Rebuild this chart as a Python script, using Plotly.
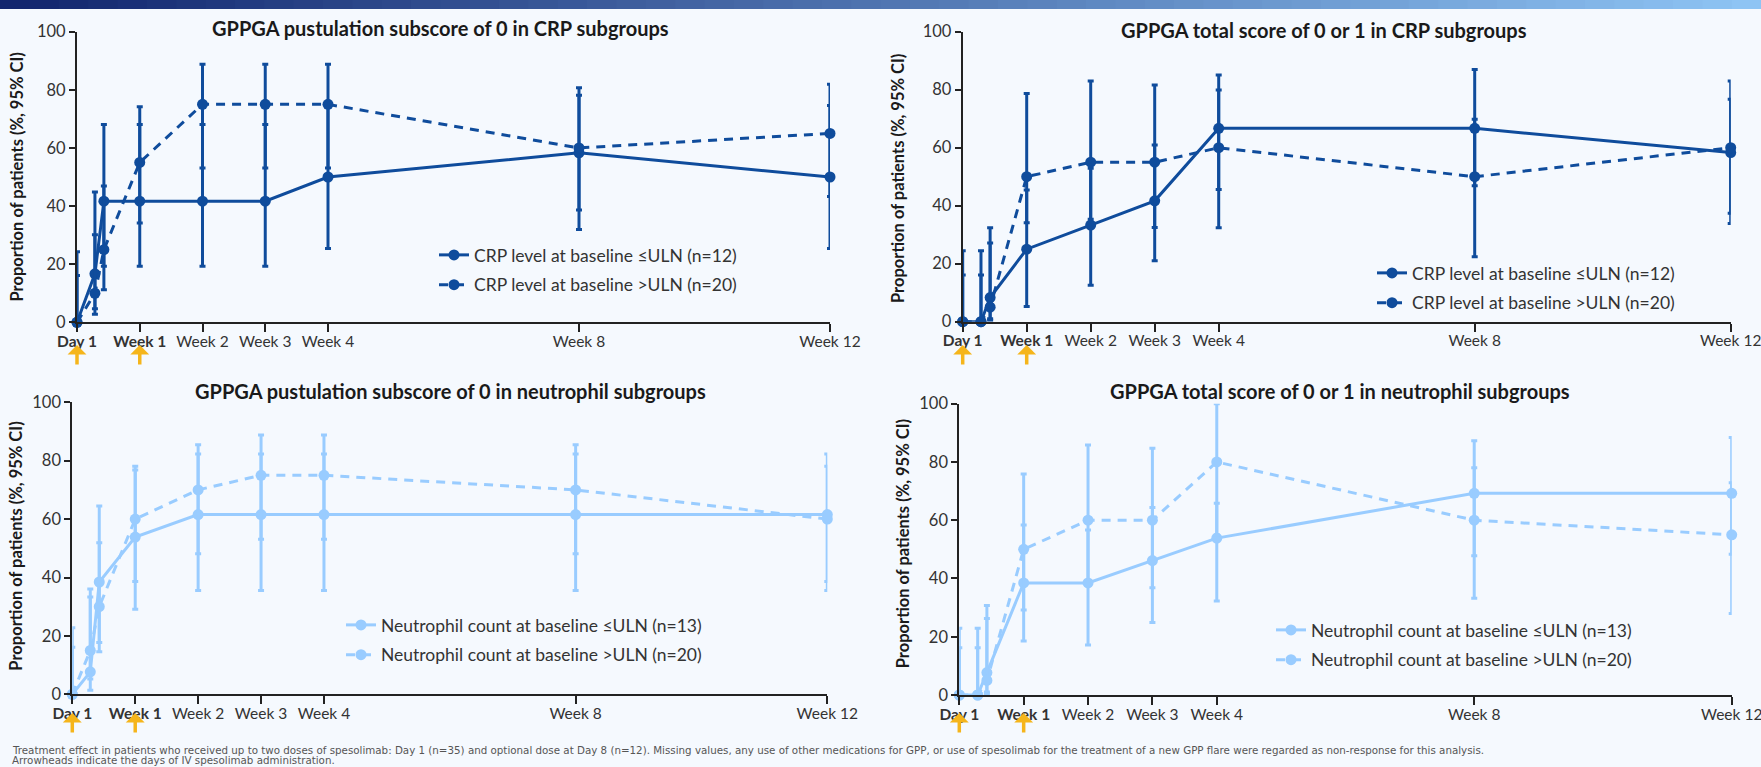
import plotly.graph_objects as go
import numpy as np

# ---------------- data ----------------
days = [1, 3, 4, 8, 15, 22, 29, 57, 85]
tick_days = [1, 8, 15, 22, 29, 57, 85]
tick_labels = ["<b>Day 1</b>", "<b>Week 1</b>", "Week 2", "Week 3", "Week 4", "Week 8", "Week 12"]
dose_days = [1, 8]

# GPPGA pustulation subscore of 0 – CRP subgroups
crp_pust_le = [0, 16.67, 41.67, 41.67, 41.67, 41.67, 50.0, 58.33, 50.0]
crp_pust_le_lo = [0, 4.70, 19.33, 19.33, 19.33, 19.33, 25.38, 31.95, 25.38]
crp_pust_le_hi = [24.25, 44.80, 68.05, 68.05, 68.05, 68.05, 74.62, 80.67, 74.62]
crp_pust_gt = [0, 10, 25, 55, 75, 75, 75, 60, 65]
crp_pust_gt_lo = [0, 2.79, 11.19, 34.21, 53.13, 53.13, 53.13, 38.66, 43.28]
crp_pust_gt_hi = [16.11, 30.10, 46.87, 74.18, 88.81, 88.81, 88.81, 78.12, 81.88]

# GPPGA total score of 0 or 1 – CRP subgroups
crp_tot_le = [0, 0, 8.33, 25, 33.33, 41.67, 66.67, 66.67, 58.33]
crp_tot_le_lo = [0, 0, 1.0, 5.2, 12.6, 21.0, 32.4, 46.9, 33.9]
crp_tot_le_hi = [24.5, 24.5, 32.4, 45.4, 52.9, 60.9, 85.1, 87.0, 83.0]
crp_tot_gt = [0, 0, 5, 50, 55, 55, 60, 50, 60]
crp_tot_gt_lo = [0, 0, 0.5, 34.1, 35.3, 32.5, 45.6, 22.4, 37.4]
crp_tot_gt_hi = [16.1, 16.1, 27.1, 78.7, 83.0, 81.6, 79.9, 69.8, 76.7]

# GPPGA pustulation subscore of 0 – neutrophil subgroups
neu_pust_le = [0, 7.69, 38.46, 53.85, 61.54, 61.54, 61.54, 61.54, 61.54]
neu_pust_le_lo = [0, 1.37, 17.71, 29.14, 35.52, 35.52, 35.52, 35.52, 35.52]
neu_pust_le_hi = [22.81, 33.31, 64.48, 76.79, 82.29, 82.29, 82.29, 82.29, 82.29]
neu_pust_gt = [0, 15, 30, 60, 70, 75, 75, 70, 60]
neu_pust_gt_lo = [0, 5.24, 14.55, 38.66, 48.10, 53.13, 53.13, 48.10, 38.66]
neu_pust_gt_hi = [16.11, 36.04, 51.90, 78.12, 85.45, 88.81, 88.81, 85.45, 78.12]

# GPPGA total score of 0 or 1 – neutrophil subgroups
neu_tot_le = [0, 0, 7.69, 38.46, 38.46, 46.15, 53.85, 69.23, 69.23]
neu_tot_le_lo = [0, 0, 1.0, 18.5, 17.2, 24.9, 32.3, 47.8, 48.3]
neu_tot_le_hi = [22.9, 22.9, 30.7, 58.4, 56.6, 64.4, 65.8, 87.3, 88.4]
neu_tot_gt = [0, 0, 5, 50, 60, 60, 80, 60, 55]
neu_tot_gt_lo = [0, 0, 0.5, 29.2, 38.0, 36.8, 55.0, 33.2, 28.0]
neu_tot_gt_hi = [16.2, 16.2, 26.3, 75.9, 85.8, 84.7, 100, 78.0, 72.9]

crp_names = ["CRP level at baseline \u2264ULN (n=12)", "CRP level at baseline >ULN (n=20)"]
neu_names = ["Neutrophil count at baseline \u2264ULN (n=13)", "Neutrophil count at baseline >ULN (n=20)"]

footnote_lines = [
    "Treatment effect in patients who received up to two doses of spesolimab: Day 1 (n=35) and optional dose at Day 8 (n=12). "
    "Missing values, any use of other medications for GPP, or use of spesolimab for the treatment of a new GPP flare were regarded as non-response for this analysis.",
    "Arrowheads indicate the days of IV spesolimab administration.",
]

# ---------------- styling ----------------
W, H = 1761, 767
DARK = "#0F4C9C"
LIGHT = "#99CCFF"
BG = "#F5F9FE"
AXC = "#222222"
FONT = "Lato, 'Open Sans', sans-serif"

def fx(px):
    return px / W

def fy(py):
    return 1 - py / H

panels = [
    dict(ax="", title="GPPGA pustulation subscore of 0 in CRP subgroups",
         xd=(77.0, 830.0), yd=(322.3, 31.7), color=DARK, names=crp_names,
         s=[(crp_pust_le, crp_pust_le_lo, crp_pust_le_hi), (crp_pust_gt, crp_pust_gt_lo, crp_pust_gt_hi)],
         title_xy=(440, 28), ytitle_xy=(16, 177.5), leg_xy=(434, 237), arrow_y=345),
    dict(ax="2", title="GPPGA total score of 0 or 1 in CRP subgroups",
         xd=(962.7, 1730.7), yd=(321.7, 31.7), color=DARK, names=crp_names,
         s=[(crp_tot_le, crp_tot_le_lo, crp_tot_le_hi), (crp_tot_gt, crp_tot_gt_lo, crp_tot_gt_hi)],
         title_xy=(1324, 30), ytitle_xy=(898, 178), leg_xy=(1372, 255), arrow_y=345),
    dict(ax="3", title="GPPGA pustulation subscore of 0 in neutrophil subgroups",
         xd=(72.3, 827.3), yd=(694.3, 402.3), color=LIGHT, names=neu_names,
         s=[(neu_pust_le, neu_pust_le_lo, neu_pust_le_hi), (neu_pust_gt, neu_pust_gt_lo, neu_pust_gt_hi)],
         title_xy=(451, 391), ytitle_xy=(16, 546.7), leg_xy=(341, 607), arrow_y=713),
    dict(ax="4", title="GPPGA total score of 0 or 1 in neutrophil subgroups",
         xd=(959.3, 1731.7), yd=(695.0, 403.7), color=LIGHT, names=neu_names,
         s=[(neu_tot_le, neu_tot_le_lo, neu_tot_le_hi), (neu_tot_gt, neu_tot_gt_lo, neu_tot_gt_hi)],
         title_xy=(1340, 391), ytitle_xy=(903, 543.3), leg_xy=(1271, 612), arrow_y=713),
]

fig = go.Figure()
layout = {}
annotations = []
shapes = []

for i, p in enumerate(panels):
    xa = "x" + p["ax"]
    ya = "y" + p["ax"]
    leg = "legend" if i == 0 else "legend" + str(i + 1)
    for j, (vals, lo, hi) in enumerate(p["s"]):
        fig.add_trace(go.Scatter(
            x=days, y=vals, xaxis=xa, yaxis=ya,
            mode="lines+markers", name=p["names"][j], legend=leg,
            legendgroup=f"g{i}{j}",
            line=dict(color=p["color"], width=3, dash="solid" if j == 0 else "9px,7px"),
            marker=dict(color=p["color"], size=11),
            error_y=dict(type="data", symmetric=False,
                         array=[h - v for h, v in zip(hi, vals)],
                         arrayminus=[v - l for v, l in zip(vals, lo)],
                         color=p["color"], thickness=3, width=3),
            cliponaxis=False, hoverinfo="skip",
        ))
    xkey = "xaxis" + p["ax"]
    ykey = "yaxis" + p["ax"]
    layout[xkey] = dict(domain=[fx(p["xd"][0]), fx(p["xd"][1])], range=[1, 85], anchor=ya,
                        tickmode="array", tickvals=tick_days, ticktext=tick_labels,
                        showline=True, linecolor=AXC, linewidth=2, ticks="outside",
                        ticklen=8, tickwidth=1.5, tickcolor=AXC, showgrid=False, zeroline=False,
                        automargin=False, ticklabeloverflow="allow", ticklabelstandoff=-4,
                        tickfont=dict(size=15.5, color="#333333", family=FONT), fixedrange=True)
    layout[ykey] = dict(domain=[fy(p["yd"][0]), fy(p["yd"][1])], range=[0, 100], anchor=xa,
                        tickmode="array", tickvals=[0, 20, 40, 60, 80, 100],
                        showline=True, linecolor=AXC, linewidth=2, ticks="outside",
                        ticklen=6, tickwidth=1.5, tickcolor=AXC, showgrid=False, zeroline=False,
                        automargin=False, ticklabeloverflow="allow",
                        tickfont=dict(size=16.5, color="#333333", family=FONT), fixedrange=True)
    layout[leg] = dict(x=fx(p["leg_xy"][0]), y=fy(p["leg_xy"][1]), xanchor="left", yanchor="top",
                       bgcolor="rgba(0,0,0,0)", font=dict(size=17.5, color="#333333", family=FONT),
                       tracegroupgap=4, itemwidth=30)
    annotations.append(dict(text="<b>" + p["title"] + "</b>", x=fx(p["title_xy"][0]), y=fy(p["title_xy"][1]),
                            xref="paper", yref="paper", xanchor="center", yanchor="middle",
                            showarrow=False, font=dict(size=20, color="#1a1a1a", family=FONT)))
    annotations.append(dict(text="<b>Proportion of patients (%, 95% CI)</b>", textangle=-90,
                            x=fx(p["ytitle_xy"][0]), y=fy(p["ytitle_xy"][1]),
                            xref="paper", yref="paper", xanchor="center", yanchor="middle",
                            showarrow=False, font=dict(size=16.5, color="#1a1a1a", family=FONT)))
    for d in dose_days:
        annotations.append(dict(text="", x=d, xref=xa, y=fy(p["arrow_y"]), yref="paper",
                                showarrow=True, ax=0, ay=21, arrowhead=1, arrowsize=0.9,
                                arrowwidth=3.5, arrowcolor="#F5B51B"))

# top banner gradient
c0 = np.array([18, 38, 110])
c1 = np.array([142, 196, 244])
nseg = 60
for k in range(nseg):
    t = k / (nseg - 1)
    c = (c0 * (1 - t) + c1 * t).astype(int)
    shapes.append(dict(type="rect", xref="paper", yref="paper", x0=k / nseg, x1=(k + 1) / nseg + 0.001,
                       y0=fy(9), y1=1, line=dict(width=0), fillcolor=f"rgb({c[0]},{c[1]},{c[2]})", layer="below"))

for line_text, ypx in zip(footnote_lines, [749.5, 759.5]):
    annotations.append(dict(
        text=line_text, x=fx(10), y=fy(ypx), xref="paper", yref="paper",
        xanchor="left", yanchor="middle", align="left",
        showarrow=False, font=dict(size=10.3, color="#555555", family="DejaVu Sans, sans-serif")))

fig.update_layout(**layout)
fig.update_layout(
    width=W, height=H, margin=dict(l=0, r=0, t=0, b=0, pad=0, autoexpand=False),
    paper_bgcolor=BG, plot_bgcolor=BG, showlegend=True,
    annotations=annotations, shapes=shapes,
    font=dict(family=FONT, color="#333333"),
)
fig.write_html("out.html", config={"displayModeBar": False},
               post_script="document.body.style.margin='0';document.body.style.background='%s';" % BG)
